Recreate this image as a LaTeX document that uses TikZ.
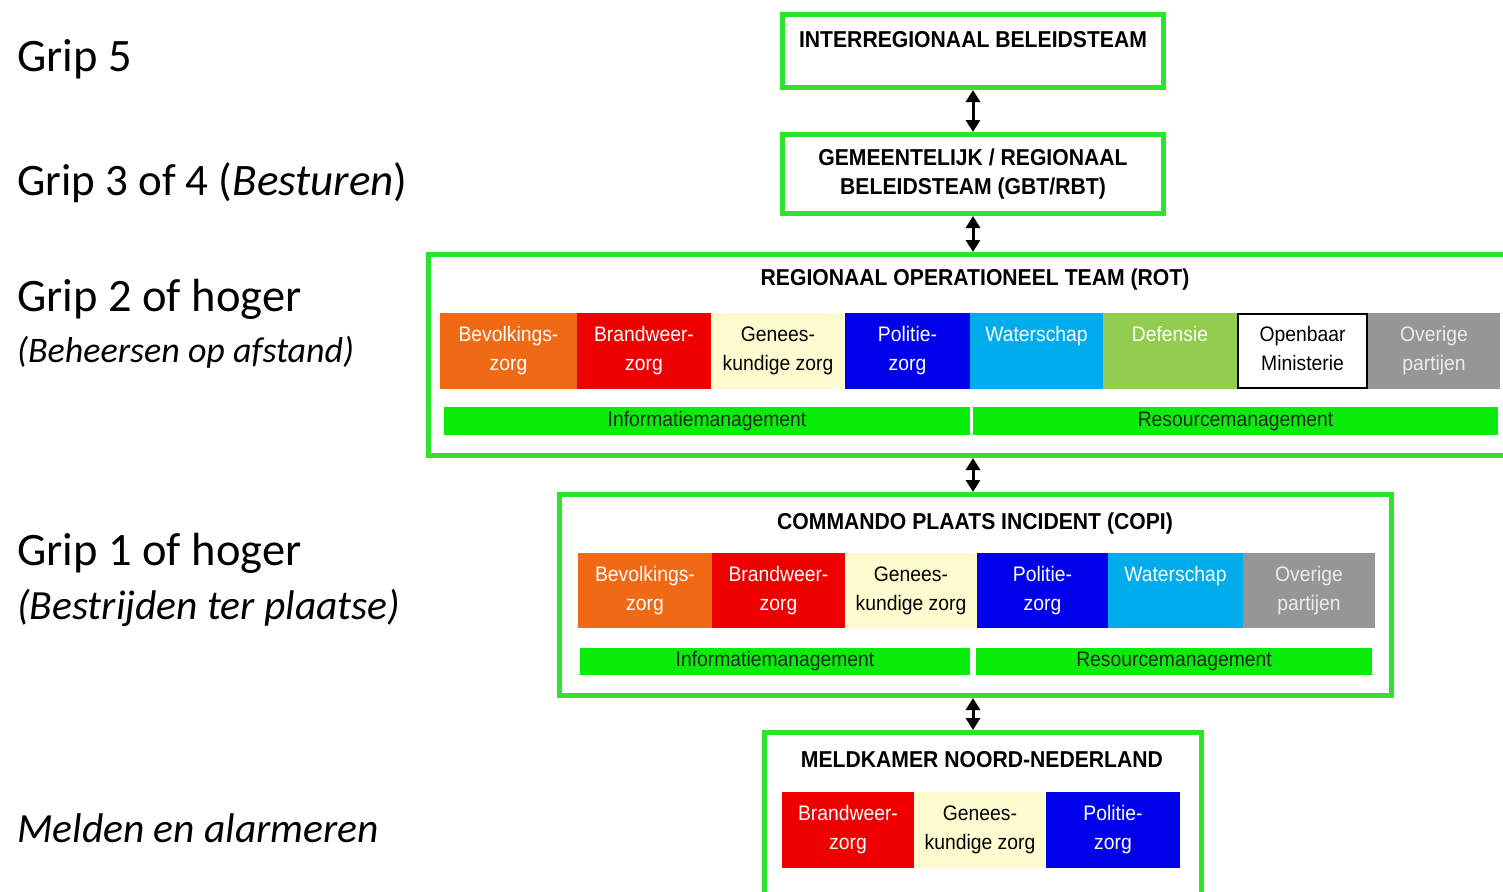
\documentclass[tikz,border=0pt]{standalone}
\usepackage{fontspec}
\setmainfont{Carlito}
\newfontfamily\boxfont[FakeStretch=0.92]{Liberation Sans}
\usetikzlibrary{arrows.meta, positioning}
\definecolor{framegreen}{RGB}{45, 228, 45}
\definecolor{bargreen}{RGB}{10, 236, 10}
\definecolor{bevorange}{RGB}{240, 105, 20}
\definecolor{brandred}{RGB}{238, 0, 0}
\definecolor{geneescream}{RGB}{255, 251, 208}
\definecolor{politieblue}{RGB}{0, 0, 235}
\definecolor{waterblue}{RGB}{0, 172, 236}
\definecolor{defgreen}{RGB}{146, 205, 80}
\definecolor{overgray}{RGB}{150, 150, 150}

\begin{document}
\begin{tikzpicture}[x=1pt, y=-1pt,
  frame/.style={draw=framegreen, line width=5pt, inner sep=0pt},
  title/.style={anchor=base, inner sep=0pt, align=center, font=\boxfont\bfseries\fontsize{23}{29}\selectfont},
  tile/.style 2 args={fill=#1, text=#2, minimum height=76pt, inner sep=0pt, align=center, font=\boxfont\fontsize{21}{29}\selectfont},
  bar/.style={fill=bargreen, text=black!85, minimum height=28pt, inner sep=0pt, font=\boxfont\fontsize{21}{25}\selectfont},
  grip/.style={anchor=base west, inner sep=0pt, font=\fontsize{46.5}{56}\selectfont},
  sub/.style={anchor=base west, inner sep=0pt, font=\itshape\fontsize{36}{43}\selectfont},
  arrow/.style={{Triangle[length=12pt, width=14pt]}-{Triangle[length=12pt, width=14pt]}, line width=3pt}
]
  \clip (0, 0) rectangle (1503, 891);

  % Grip levels
  \node[grip] (grip5) at (17, 71) {Grip 5};
  \node[grip, font=\fontsize{45}{54}\selectfont] (grip34) at (17, 195) {Grip 3 of 4 (\textit{Besturen})};
  \node[grip] (grip2) at (17, 311) {Grip 2 of hoger};
  \node[sub] (grip2sub) at (17, 362) {(Beheersen op afstand)};
  \node[grip] (grip1) at (17, 565) {Grip 1 of hoger};
  \node[sub, font=\itshape\fontsize{41.5}{50}\selectfont] (grip1sub) at (17, 619) {(Bestrijden ter plaatse)};
  \node[grip, font=\itshape\fontsize{41.5}{50}\selectfont] (melden) at (17, 842) {Melden en alarmeren};

  % Beleidsteams
  \node[frame, minimum width=381pt, minimum height=73pt] (ibt) at (973, 51) {};
  \node[title] (ibttitle) at (973, 48) {INTERREGIONAAL BELEIDSTEAM};
  \node[frame, minimum width=381pt, minimum height=79pt, align=center, font=\boxfont\bfseries\fontsize{23}{29}\selectfont] (gbt) at (973, 174) {GEMEENTELIJK / REGIONAAL\\BELEIDSTEAM (GBT/RBT)};

  % ROT
  \node[frame, minimum width=1079pt, minimum height=201pt] (rot) at (968, 355) {};
  \node[title] (rottitle) at (975, 285) {REGIONAAL OPERATIONEEL TEAM (ROT)};
  \node[tile={bevorange}{white}, minimum width=137pt] (rbev) at (508.5, 351) {Bevolkings-\\zorg};
  \node[tile={brandred}{white}, minimum width=134pt] (rbrw) at (644, 351) {Brandweer-\\zorg};
  \node[tile={geneescream}{black}, minimum width=134pt] (rgen) at (778, 351) {Genees-\\kundige zorg};
  \node[tile={politieblue}{white}, minimum width=125pt] (rpol) at (907.5, 351) {Politie-\\zorg};
  \node[tile={waterblue}{white}, minimum width=133pt] (rwat) at (1036.5, 351) {Waterschap\\\vphantom{g}};
  \node[tile={defgreen}{white}, minimum width=134pt] (rdef) at (1170, 351) {Defensie\\\vphantom{g}};
  \node[tile={white}{black}, draw=black, line width=2pt, minimum width=129pt, minimum height=74pt] (rom) at (1302.5, 351) {Openbaar\\Ministerie\vphantom{g}};
  \node[tile={overgray}{white!92!black}, minimum width=132pt] (rove) at (1434, 351) {Overige\\partijen};
  \node[bar, minimum width=526pt] (rinfo) at (707, 421) {Informatiemanagement};
  \node[bar, minimum width=525pt] (rres) at (1235.5, 421) {Resourcemanagement};

  % COPI
  \node[frame, minimum width=832pt, minimum height=201pt] (copi) at (975.5, 595) {};
  \node[title] (copititle) at (975, 529) {COMMANDO PLAATS INCIDENT (COPI)};
  \node[tile={bevorange}{white}, minimum width=134pt, minimum height=75pt] (cbev) at (645, 590.5) {Bevolkings-\\zorg};
  \node[tile={brandred}{white}, minimum width=133pt, minimum height=75pt] (cbrw) at (778.5, 590.5) {Brandweer-\\zorg};
  \node[tile={geneescream}{black}, minimum width=132pt, minimum height=75pt] (cgen) at (911, 590.5) {Genees-\\kundige zorg};
  \node[tile={politieblue}{white}, minimum width=131pt, minimum height=75pt] (cpol) at (1042.5, 590.5) {Politie-\\zorg};
  \node[tile={waterblue}{white}, minimum width=135pt, minimum height=75pt] (cwat) at (1175.5, 590.5) {Waterschap\\\vphantom{g}};
  \node[tile={overgray}{white!92!black}, minimum width=132pt, minimum height=75pt] (cove) at (1309, 590.5) {Overige\\partijen};
  \node[bar, minimum width=390pt, minimum height=27pt] (cinfo) at (775, 661.5) {Informatiemanagement};
  \node[bar, minimum width=396pt, minimum height=27pt] (cres) at (1174, 661.5) {Resourcemanagement};

  % Meldkamer
  \node[frame, minimum width=437pt, minimum height=173pt] (meld) at (983, 819) {};
  \node[title] (meldtitle) at (982, 767) {MELDKAMER NOORD-NEDERLAND};
  \node[tile={brandred}{white}, minimum width=132pt] (mbrw) at (848, 830) {Brandweer-\\zorg};
  \node[tile={geneescream}{black}, minimum width=132pt] (mgen) at (980, 830) {Genees-\\kundige zorg};
  \node[tile={politieblue}{white}, minimum width=134pt] (mpol) at (1113, 830) {Politie-\\zorg};

  % Links tussen de lagen
  \draw[arrow] (ibt.south) -- (gbt.north);
  \draw[arrow] (gbt.south) -- (gbt.south |- rot.north);
  \draw[arrow] (gbt.south |- rot.south) -- (gbt.south |- copi.north);
  \draw[arrow] (gbt.south |- copi.south) -- (gbt.south |- meld.north);
\end{tikzpicture}
\end{document}
